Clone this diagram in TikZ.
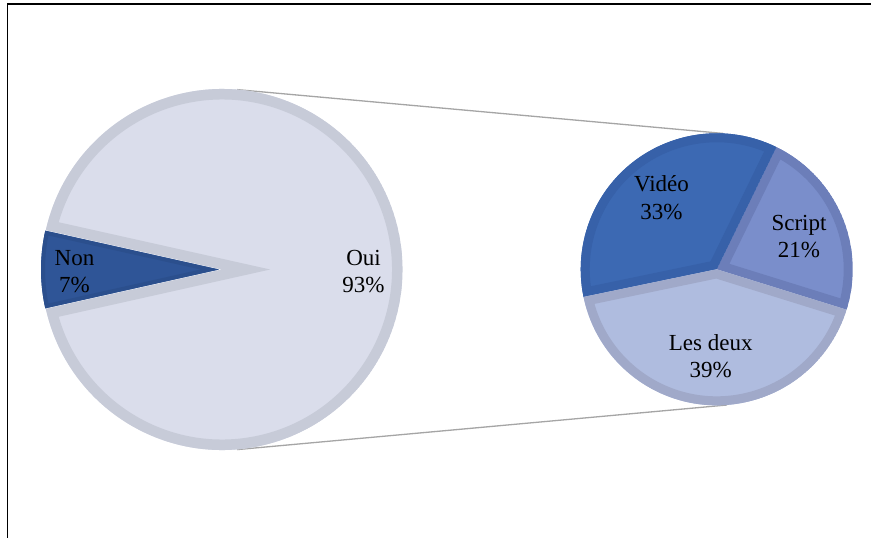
\documentclass[tikz,border=0pt]{standalone}
\usepackage{fontspec}
\setmainfont{Liberation Serif}
\definecolor{ouiFill}{HTML}{DADDEB}
\definecolor{ouiLine}{HTML}{C7CBD8}
\definecolor{nonFill}{HTML}{2F5597}
\definecolor{nonLine}{HTML}{2B4F8D}
\definecolor{vidFill}{HTML}{3C69B3}
\definecolor{vidLine}{HTML}{3761A9}
\definecolor{scrFill}{HTML}{7A8ECB}
\definecolor{scrLine}{HTML}{6C7EB9}
\definecolor{lesFill}{HTML}{AFBCDF}
\definecolor{lesLine}{HTML}{A0A9C9}
\definecolor{linkGray}{HTML}{A5A5A5}
% a pie slice filled with a colour and edged inside with a darker band
% #1 centre, #2 start angle, #3 end angle, #4 radius, #5 fill, #6 band colour, #7 band width
\newcommand{\pieslice}[7]{%
  \begin{scope}
    \clip #1 -- +(#2:#4) arc[start angle=#2, end angle=#3, radius=#4] -- cycle;
    \fill[#5] #1 -- +(#2:#4) arc[start angle=#2, end angle=#3, radius=#4] -- cycle;
    \draw[#6, line width=#7, line join=miter, miter limit=12]
      #1 -- +(#2:#4) arc[start angle=#2, end angle=#3, radius=#4] -- cycle;
  \end{scope}}
\tikzset{
  frameline/.style={line width=1.8pt, black},
  linkline/.style={line width=1.3pt, linkGray},
  % anchored on the baseline of the second line
  pielabel/.style={align=center, anchor=base, inner sep=0pt,
    font=\fontsize{23}{27.5}\selectfont}
}
\begin{document}
\begin{tikzpicture}[x=1pt, y=-1pt]
  \useasboundingbox[fill=white] (0,0) rectangle (871,538);
  % frame (top and left edges)
  \draw[frameline] (7.5,538) -- (7.5,3.8) -- (871,3.8);

  % centres
  \coordinate (bigC) at (222,269.5);
  \coordinate (nonC) at (219,269.5);
  \coordinate (smallC) at (716.7,269.3);

  % link lines between the two pies
  \coordinate (bigTop) at (237,89.6);
  \coordinate (bigBot) at (237,449.6);
  \coordinate (smallTop) at (723,133.4);
  \coordinate (smallBot) at (727,405.0);
  \draw[linkline] (bigTop) -- (smallTop);
  \draw[linkline] (bigBot) -- (smallBot);

  % main pie: Oui and Non
  \pieslice{(bigC)}{-192.6}{-527.4}{180.5}{ouiFill}{ouiLine}{21pt}
  \pieslice{(nonC)}{-167.4}{-192.6}{178}{nonFill}{nonLine}{8pt}

  % secondary pie: Script, Vidéo, Les deux
  \pieslice{(smallC)}{17.29}{-64}{136}{scrFill}{scrLine}{18pt}
  \pieslice{(smallC)}{-64}{-191.74}{136}{vidFill}{vidLine}{18pt}
  \pieslice{(smallC)}{-191.74}{-342.71}{136}{lesFill}{lesLine}{18pt}

  % labels
  \node[pielabel] (labNon) at (74.5,292.5) {Non\\7\%};
  \node[pielabel] (labOui) at (363.5,292.5) {Oui\\93\%};
  \node[pielabel] (labVid) at (661.5,219.2) {Vidéo\\33\%};
  \node[pielabel] (labScr) at (799,257.5) {Script\\21\%};
  \node[pielabel] (labLes) at (710.7,377.5) {Les deux\\39\%};
\end{tikzpicture}
\end{document}
